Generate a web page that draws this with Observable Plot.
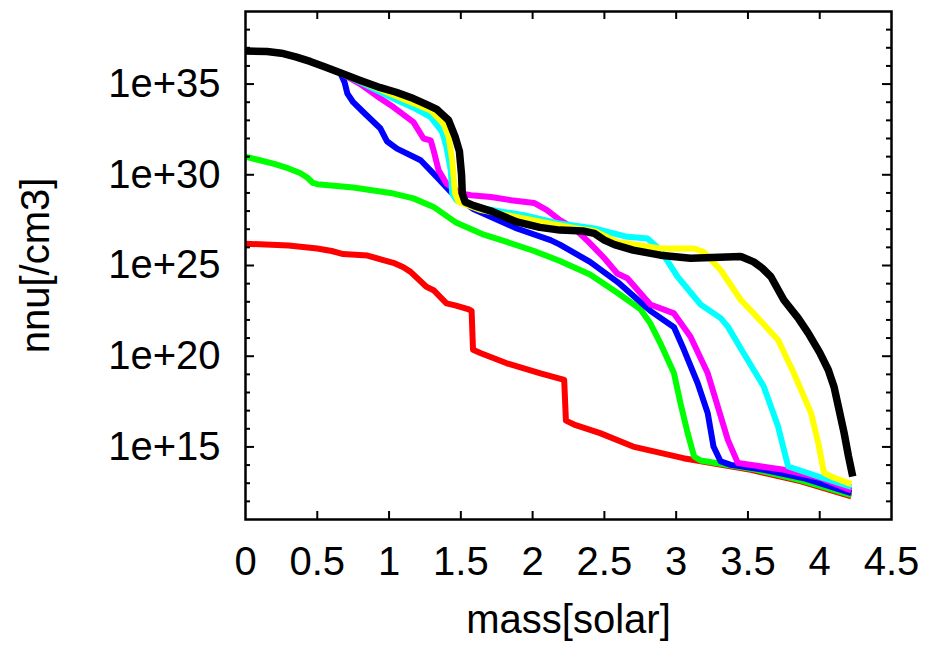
<!DOCTYPE html>
<html>
<head>
<meta charset="utf-8">
<script src="https://cdn.jsdelivr.net/npm/d3@7"></script>
<script src="https://cdn.jsdelivr.net/npm/@observablehq/plot@0.6"></script>
<style>
  html, body { margin: 0; padding: 0; background: white; }
</style>
</head>
<body>
<div id="chart"></div>
<script>
// ---- tick values ----
const xTicks = [0, 0.5, 1, 1.5, 2, 2.5, 3, 3.5, 4, 4.5];
const yMajorExp = [15, 20, 25, 30, 35];
const yMinorExp = [12, 13, 14, 16, 17, 18, 19, 21, 22, 23, 24, 26, 27, 28, 29, 31, 32, 33, 34, 36, 37, 38];

// ---- series: mass [solar] and log10(nnu [/cm3]) ----
const redMass = [0, 0.3, 0.5, 0.6, 0.68, 0.85, 0.96, 1.03, 1.1, 1.15, 1.26, 1.31, 1.4, 1.46, 1.55, 1.575, 1.585, 1.64, 1.82, 2.055, 2.22, 2.232, 2.3, 2.47, 2.7, 3.05, 3.52, 3.87, 4.22];
const redLog  = [26.2, 26.1, 25.94, 25.8, 25.63, 25.55, 25.3, 25.15, 24.9, 24.65, 23.83, 23.64, 22.91, 22.8, 22.6, 22.5, 20.35, 20.16, 19.61, 19.06, 18.69, 16.45, 16.2, 15.76, 15.02, 14.38, 13.74, 13.1, 12.27];

const greenMass = [0, 0.1, 0.2, 0.3, 0.38, 0.43, 0.47, 0.5, 0.75, 1.01, 1.17, 1.31, 1.47, 1.66, 1.82, 2.01, 2.19, 2.4, 2.59, 2.75, 2.82, 2.89, 2.985, 3.03, 3.08, 3.125, 3.17, 3.52, 3.87, 4.22];
const greenLog  = [31.0, 30.8, 30.6, 30.35, 30.1, 29.85, 29.55, 29.48, 29.3, 29.0, 28.7, 28.23, 27.35, 26.7, 26.3, 25.8, 25.25, 24.5, 23.5, 22.6, 21.81, 20.71, 19.06, 17.41, 15.76, 14.47, 14.25, 13.8, 13.16, 12.35];

const blueMass = [0, 0.15, 0.25, 0.35, 0.45, 0.55, 0.66, 0.69, 0.71, 0.75, 0.82, 0.94, 0.985, 1.055, 1.22, 1.33, 1.44, 1.59, 1.89, 2.125, 2.19, 2.4, 2.59, 2.82, 2.985, 3.055, 3.15, 3.22, 3.26, 3.31, 3.38, 3.6, 3.9, 4.22];
const blueLog  = [36.82, 36.8, 36.7, 36.5, 36.25, 35.95, 35.62, 35.1, 34.47, 34.0, 33.46, 32.55, 31.85, 31.44, 30.8, 29.9, 28.97, 28.1, 27.04, 26.4, 26.15, 25.2, 24.1, 22.5, 21.6, 20.34, 18.51, 16.86, 15.02, 14.2, 14.01, 13.75, 13.25, 12.45];

const magentaMass = [0, 0.15, 0.25, 0.35, 0.45, 0.55, 0.66, 0.8, 0.94, 1.03, 1.17, 1.24, 1.29, 1.31, 1.345, 1.4, 1.5, 1.57, 1.71, 1.85, 2.01, 2.1, 2.19, 2.29, 2.39, 2.5, 2.59, 2.66, 2.82, 2.985, 3.1, 3.22, 3.29, 3.36, 3.43, 3.75, 4.0, 4.22];
const magentaLog  = [36.82, 36.8, 36.7, 36.5, 36.25, 35.95, 35.62, 35.0, 34.2, 33.73, 32.9, 32.0, 31.9, 31.35, 30.25, 29.52, 28.97, 28.87, 28.78, 28.6, 28.45, 28.05, 27.5, 27.05, 26.3, 25.4, 24.56, 24.3, 22.85, 22.36, 21.07, 19.06, 17.22, 15.39, 14.11, 13.74, 13.3, 12.6];

const cyanMass = [0, 0.15, 0.25, 0.35, 0.45, 0.55, 0.66, 0.8, 1.03, 1.17, 1.29, 1.37, 1.4, 1.43, 1.44, 1.47, 1.59, 1.94, 2.19, 2.43, 2.66, 2.8, 2.89, 3.01, 3.17, 3.31, 3.36, 3.47, 3.61, 3.71, 3.78, 3.99, 4.22];
const cyanLog  = [36.82, 36.8, 36.7, 36.5, 36.25, 35.95, 35.62, 35.1, 34.2, 33.7, 33.18, 32.36, 31.53, 30.25, 28.97, 28.6, 28.23, 27.77, 27.31, 27.04, 26.58, 26.49, 25.85, 24.38, 22.85, 22.1, 21.63, 20.16, 18.33, 16.12, 13.92, 13.37, 12.8];

const yellowMass = [0, 0.15, 0.25, 0.35, 0.45, 0.55, 0.66, 0.8, 0.94, 1.03, 1.17, 1.29, 1.38, 1.415, 1.44, 1.46, 1.485, 1.64, 1.94, 2.125, 2.3, 2.43, 2.59, 2.89, 3.125, 3.19, 3.31, 3.45, 3.54, 3.71, 3.82, 3.94, 3.99, 4.03, 4.1, 4.22];
const yellowLog  = [36.82, 36.8, 36.7, 36.5, 36.25, 35.95, 35.62, 35.15, 34.7, 34.4, 33.95, 33.55, 32.82, 32.08, 30.8, 28.97, 28.5, 28.05, 27.59, 27.31, 27.05, 26.9, 26.3, 25.94, 25.94, 25.75, 24.75, 23.1, 22.36, 20.89, 19.06, 16.86, 15.21, 13.56, 13.3, 12.95];

const blackMass = [0, 0.15, 0.25, 0.35, 0.45, 0.55, 0.66, 0.8, 0.94, 1.05, 1.17, 1.26, 1.33, 1.415, 1.46, 1.49, 1.505, 1.51, 1.53, 1.59, 1.71, 1.89, 2.05, 2.19, 2.35, 2.43, 2.5, 2.57, 2.7, 2.89, 3.1, 3.3, 3.45, 3.54, 3.6, 3.66, 3.75, 3.85, 3.92, 4.0, 4.06, 4.1, 4.13, 4.17, 4.2, 4.23];
const blackLog  = [36.82, 36.8, 36.7, 36.5, 36.25, 35.95, 35.62, 35.2, 34.8, 34.55, 34.2, 33.88, 33.62, 33.0, 32.1, 31.3, 30.0, 28.97, 28.5, 28.3, 28.0, 27.4, 27.1, 26.95, 26.9, 26.77, 26.4, 26.15, 25.85, 25.57, 25.4, 25.45, 25.5, 25.2, 24.85, 24.38, 23.1, 22.1, 21.27, 20.2, 19.24, 18.3, 17.22, 15.77, 14.5, 13.37];

const series = [
  {name: "red",     mass: redMass,     log: redLog,     color: "#ff0000", width: 6},
  {name: "green",   mass: greenMass,   log: greenLog,   color: "#00ff00", width: 6},
  {name: "blue",    mass: blueMass,    log: blueLog,    color: "#0000ff", width: 6},
  {name: "magenta", mass: magentaMass, log: magentaLog, color: "#ff00ff", width: 6},
  {name: "cyan",    mass: cyanMass,    log: cyanLog,    color: "#00ffff", width: 6},
  {name: "yellow",  mass: yellowMass,  log: yellowLog,  color: "#ffff00", width: 6},
  {name: "black",   mass: blackMass,   log: blackLog,   color: "#000000", width: 7.5}
];

const toRows = s => s.mass.map((m, i) => ({mass: m, nnu: Math.pow(10, s.log[i])}));

const W = 932, H = 646;
const mL = 245, mR = 41, mT = 11, mB = 127;
const pw = W - mL - mR, ph = H - mT - mB;

const yMajor = yMajorExp.map(e => Math.pow(10, e));
const yMinor = yMinorExp.map(e => Math.pow(10, e));
const xInner = xTicks.slice(1, -1);

const lineMarks = series.map(s => Plot.line(toRows(s), {
  x: "mass", y: "nnu", stroke: s.color, strokeWidth: s.width,
  strokeLinejoin: "round", strokeLinecap: "butt", curve: "linear"
}));

const chart = Plot.plot({
  width: W, height: H,
  marginLeft: mL, marginRight: mR, marginTop: mT, marginBottom: mB,
  x: {domain: [0, 4.5]},
  y: {type: "log", domain: [1e11, 1e39]},
  style: {fontFamily: "'Liberation Sans', Arial, Helvetica, sans-serif", fontSize: "40px", background: "white", color: "black", overflow: "visible"},
  marks: [
    ...lineMarks,
    // inward ticks, all four sides
    Plot.tickY(yMajor, {y: d => d, insetRight: pw - 9, stroke: "black", strokeWidth: 2}),
    Plot.tickY(yMajor, {y: d => d, insetLeft: pw - 9, stroke: "black", strokeWidth: 2}),
    Plot.tickY(yMinor, {y: d => d, insetRight: pw - 5, stroke: "black", strokeWidth: 2}),
    Plot.tickY(yMinor, {y: d => d, insetLeft: pw - 5, stroke: "black", strokeWidth: 2}),
    Plot.tickX(xInner, {x: d => d, insetTop: ph - 8, stroke: "black", strokeWidth: 2}),
    Plot.tickX(xInner, {x: d => d, insetBottom: ph - 8, stroke: "black", strokeWidth: 2}),
    Plot.axisY({ticks: yMajor, tickSize: 0, tickPadding: 25, label: null,
      tickFormat: d => "1e+" + Math.round(Math.log10(d))}),
    Plot.axisX({ticks: xTicks, tickSize: 0, tickPadding: 27, label: null,
      tickFormat: d => String(d)}),
    Plot.frame({stroke: "black", strokeWidth: 2.5}),
    Plot.text(["mass[solar]"], {text: d => d, frameAnchor: "bottom", dy: 101,
      textAnchor: "middle", lineAnchor: "middle"}),
    Plot.text(["nnu[/cm3]"], {text: d => d, frameAnchor: "left", dx: -209, rotate: -90,
      textAnchor: "middle", lineAnchor: "middle"})
  ]
});

document.getElementById("chart").appendChild(chart);
</script>
</body>
</html>
